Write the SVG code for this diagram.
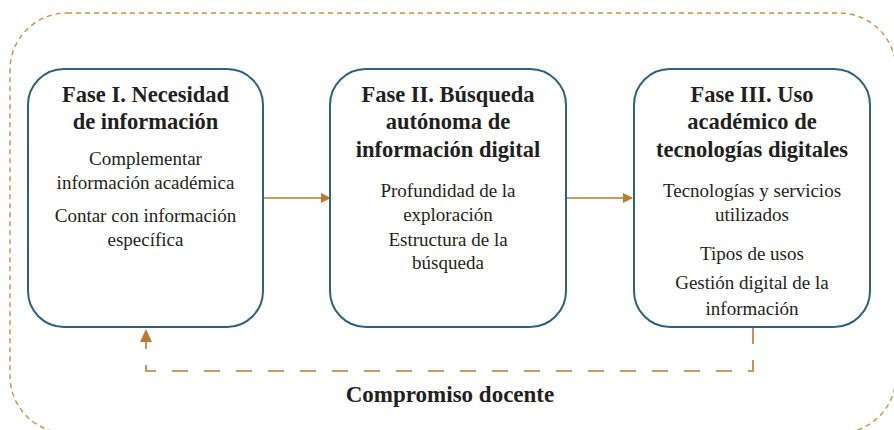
<svg xmlns="http://www.w3.org/2000/svg" width="894" height="430" viewBox="0 0 894 430">
<style>
.box{fill:#fff;stroke:#2f607c;stroke-width:2}
.t{font-family:"Liberation Serif",serif;font-weight:bold;font-size:22.5px;fill:#231f20;text-anchor:middle}
.b{font-family:"Liberation Serif",serif;font-size:19px;fill:#231f20;text-anchor:middle}
.con{fill:none;stroke:#b97b32;stroke-width:1.6}
</style>
<defs>
<marker id="ah" markerWidth="10" markerHeight="10" refX="9" refY="5" orient="auto" markerUnits="userSpaceOnUse">
<path d="M0,0 L10,5 L0,10 Z" fill="#b97b32"/>
</marker>
<marker id="ah2" markerWidth="14" markerHeight="12" refX="13" refY="6" orient="auto" markerUnits="userSpaceOnUse">
<path d="M0,0 L13,6 L0,12 Z" fill="#b97b32"/>
</marker>
</defs>
<rect id="frame" x="10" y="13" width="886" height="420" rx="57" fill="none" stroke="#c8904c" stroke-width="1.4" stroke-dasharray="5 4"/>
<g id="connectors">
<line class="con" x1="264" y1="198" x2="330" y2="198" marker-end="url(#ah)"/>
<line class="con" x1="566" y1="198" x2="632" y2="198" marker-end="url(#ah)"/>
<path class="con" d="M753,328 V371 H146 V329" stroke-dasharray="16 16" marker-end="url(#ah2)"/>
</g>
<g id="fase1">
<rect class="box" x="28" y="69" width="235" height="258" rx="36"/>
<text class="t" x="145.5" y="102">Fase I. Necesidad</text>
<text class="t" x="145.5" y="129">de información</text>
<text class="b" x="145.5" y="165">Complementar</text>
<text class="b" x="145.5" y="189">información académica</text>
<text class="b" x="145.5" y="222">Contar con información</text>
<text class="b" x="145.5" y="246">específica</text>
</g>
<g id="fase2">
<rect class="box" x="330" y="69" width="236" height="258" rx="36"/>
<text class="t" x="448" y="102">Fase II. Búsqueda</text>
<text class="t" x="448" y="129">autónoma de</text>
<text class="t" x="448" y="157">información digital</text>
<text class="b" x="448" y="197">Profundidad de la</text>
<text class="b" x="448" y="221">exploración</text>
<text class="b" x="448" y="246">Estructura de la</text>
<text class="b" x="448" y="269">búsqueda</text>
</g>
<g id="fase3">
<rect class="box" x="634" y="69" width="236" height="258" rx="36"/>
<text class="t" x="752" y="102">Fase III. Uso</text>
<text class="t" x="752" y="129">académico de</text>
<text class="t" x="752" y="157">tecnologías digitales</text>
<text class="b" x="752" y="197">Tecnologías y servicios</text>
<text class="b" x="752" y="221">utilizados</text>
<text class="b" x="752" y="260">Tipos de usos</text>
<text class="b" x="752" y="289">Gestión digital de la</text>
<text class="b" x="752" y="315">información</text>
</g>
<text id="compromiso" class="t" x="450" y="402" style="font-size:23px">Compromiso docente</text>
</svg>
